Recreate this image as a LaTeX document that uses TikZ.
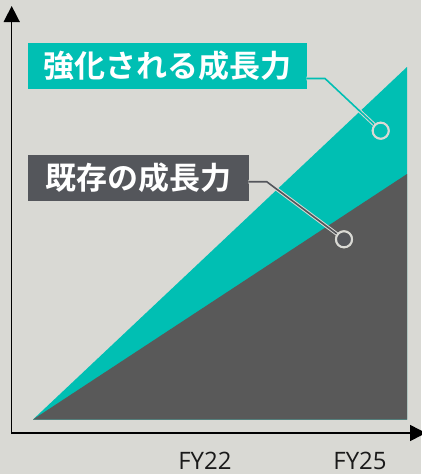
\documentclass[tikz,border=0pt]{standalone}
\usepackage{fontspec}
\setmainfont{Open Sans}
\newfontfamily\jpfont{Noto Sans CJK JP}[BoldFont={Noto Sans CJK JP Bold}]
\usetikzlibrary{arrows.meta}
\definecolor{bgc}{RGB}{217,217,212}
\definecolor{tealc}{RGB}{0,191,179}
\definecolor{darkc}{RGB}{89,89,89}
\definecolor{boxc}{RGB}{84,86,91}
\definecolor{fyc}{RGB}{26,26,26}
\tikzset{
  axisline/.style={line width=1.5pt, black, -{Triangle[length=16pt,width=16pt]}},
  labelbox/.style={inner sep=0pt, minimum height=46pt, text=white, font=\jpfont\bfseries\fontsize{31}{31}\selectfont, anchor=north west},
  casing/.style={bgc, line width=3.6pt},
  core/.style={line width=1.6pt},
  dotc/.style={draw=bgc, line width=2pt, circle, minimum size=16pt, inner sep=0pt},
  fylabel/.style={text=fyc, font=\fontsize{24}{24}\selectfont, anchor=base, inner sep=0pt}
}
\begin{document}
\begin{tikzpicture}[x=1pt,y=-1pt]
\useasboundingbox (0,0) rectangle (421,474);
\fill[bgc] (0,0) rectangle (421,474);
% areas
\fill[tealc] (33,419.5) -- (407,67) -- (407,419.5) -- cycle;
\fill[darkc] (33,419.5) -- (407,174) -- (407,419.5) -- cycle;
% axes
\coordinate (ytip) at (11.7,6);
\coordinate (xtip) at (426,433);
\draw[axisline] (11.7,434) -- (ytip);
\draw[axisline] (11,433) -- (xtip);
% labels
\node[labelbox, fill=tealc, minimum width=279pt] (l1) at (28,43) {強化される成長力};
\node[labelbox, fill=boxc, minimum width=221pt] (l2) at (28,155) {既存の成長力};
% leader 1
\coordinate (b1) at (325,78.5);
\node[dotc, fill=tealc] (c1) at (380.7,130.7) {};
\coordinate (s1) at (l1.east |- b1);
\draw[casing] ([xshift=-1pt]s1) -- (b1) -- (c1);
\draw[core, tealc] ([xshift=-1pt]s1) -- (b1) -- (c1);
\node[dotc, fill=tealc] at (c1) {};
% leader 2
\coordinate (b2) at (266.7,181.7);
\node[dotc, fill=boxc] (c2) at (344,239.3) {};
\coordinate (s2) at (l2.east |- b2);
\draw[casing] ([xshift=-1pt]s2) -- (b2) -- (c2);
\draw[core, boxc] ([xshift=-1pt]s2) -- (b2) -- (c2);
\node[dotc, fill=boxc] at (c2) {};
% year labels
\node[fylabel] (fy22) at (205,469.5) {FY22};
\node[fylabel] (fy25) at (360,469.5) {FY25};
\end{tikzpicture}
\end{document}
